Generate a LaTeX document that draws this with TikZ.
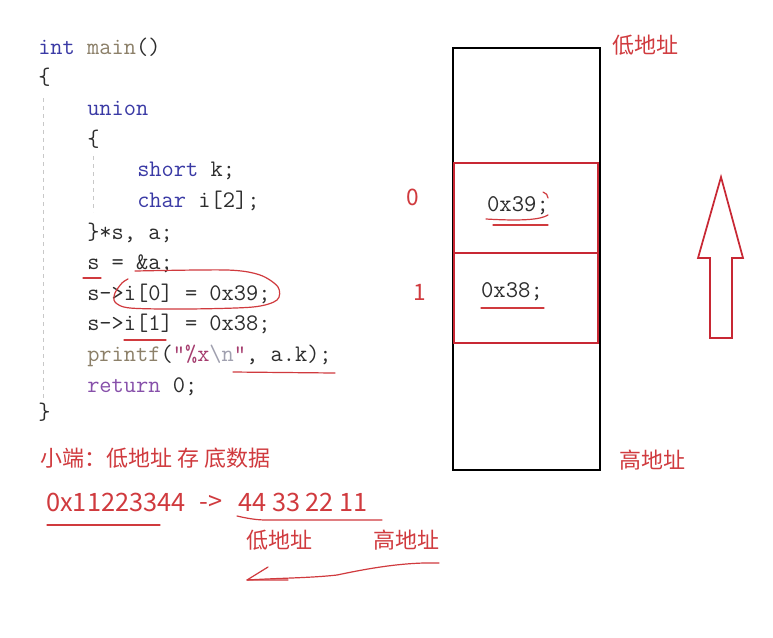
\documentclass[tikz,border=0pt]{standalone}
\usepackage{fontspec}
\usepackage{xcolor}
\usepackage{tikz}
\newfontfamily\codefont{Latin Modern Mono}
\newfontfamily\cjkfont{Noto Sans CJK SC}
\definecolor{pen}{RGB}{208,58,62}
\definecolor{boxred}{RGB}{200,40,52}
\definecolor{codegray}{RGB}{45,45,45}
\definecolor{kw}{RGB}{58,58,165}
\definecolor{fn}{RGB}{140,128,105}
\definecolor{rt}{RGB}{135,80,170}
\definecolor{st}{RGB}{165,60,110}
\definecolor{esc}{RGB}{160,160,175}
\definecolor{guide}{RGB}{200,200,200}
\newcommand{\kw}[1]{\textcolor{kw}{#1}}
\newcommand{\fn}[1]{\textcolor{fn}{#1}}

\begin{document}
\begin{tikzpicture}[x=0.75pt,y=-0.75pt,
    code/.style={anchor=mid west,inner sep=0pt,text=codegray,
        font=\codefont\fontsize{17.8}{20}\selectfont},
    note/.style={inner sep=0pt,text=pen,font=\cjkfont\fontsize{16.5}{20}\selectfont},
    num/.style={inner sep=0pt,text=pen,font=\cjkfont\fontsize{19}{22}\selectfont},
    ink/.style={draw=pen,line width=0.9pt,line cap=round,line join=round}]
    \fill [white] (0,0) rectangle (773,637);
    \useasboundingbox (0,0) rectangle (773,637);

    % code
    \draw [guide,dash pattern=on 3pt off 3pt] (43,98)--(43,402);
    \draw [guide,dash pattern=on 3pt off 3pt] (93,156)--(93,212);
    \node[code] (l1) at (38,52) {\kw{int} \fn{main}()};
    \node[code] (l2) at (38,82) {\{};
    \node[code] (l3) at (87,113) {\kw{union}};
    \node[code] (l4) at (87,144) {\{};
    \node[code] (l5) at (137,174) {\kw{short} k;};
    \node[code] (l6) at (137,205) {\kw{char} i[2];};
    \node[code] (l7) at (87,237) {\}*s, a;};
    \node[code] (l8) at (87,267) {s = \&a;};
    \node[code] (l9) at (87,298) {s->i[0] = 0x39;};
    \node[code] (l10) at (87,328) {s->i[1] = 0x38;};
    \node[code] (l11) at (87,359) {\fn{printf}(\textcolor{st}{”\%x}\textcolor{esc}{\textbackslash n}\textcolor{st}{”}, a.k);};
    \node[code] (l12) at (87,390) {\textcolor{rt}{return} 0;};
    \node[code] (l13) at (38,417) {\}};

    % marks on the code
    \draw[ink] (83,278)--(101,278);
    \draw[ink] plot[smooth] coordinates {(135,271) (227,270) (260,275) (278,287) (277,300)
        (253,307) (187,309) (130,308) (115,302) (115,293) (122,283) (128,279)};
    \draw[ink] (124,340)--(166,340);
    \draw[ink] (233,372)--(335,373);

    % memory
    \draw [black,line width=1.5pt] (453,48) rectangle (600,470);
    \draw [boxred,line width=1.5pt] (454,163) rectangle (598,253);
    \draw [boxred,line width=1.5pt] (454,253) rectangle (598,343);
    \node[code,anchor=center,font=\codefont\fontsize{18}{20}\selectfont] (v0) at (518,206) {0x39;};
    \node[code,anchor=center,font=\codefont\fontsize{18}{20}\selectfont] (v1) at (512,292) {0x38;};
    \draw[ink] (486,219) .. controls (520,221) and (540,220) .. (548,215);
    \draw[ink] (493,225)--(548,225);
    \draw[ink] (543,192) .. controls (546,193) and (548,195) .. (548,198);
    \draw[ink] (481,308)--(544,308);
    \node[num,font=\cjkfont\fontsize{17}{20}\selectfont] (i0) at (413,197) {0};
    \node[num,font=\cjkfont\fontsize{17}{20}\selectfont] (i1) at (420,292) {1};
    \node[note] (lo) at (645,45) {低地址};
    \node[note] (hi) at (652,460) {高地址};
    \draw[boxred,line width=1.3pt,line join=miter] (721,177)--(743,258)--(732,258)--(732,338)
        --(710,338)--(710,258)--(698,258)--cycle;

    % little endian
    \node[note,anchor=west] (rule) at (40,458) {小端：低地址 存 底数据};
    \node[num,anchor=west] (val) at (46,502) {0x11223344};
    \node[num] (to) at (211,503) {->};
    \node[num,anchor=west] (bytes) at (238,502) {44 33 22 11};
    \draw[ink] (47,525)--(160,525);
    \draw[ink] (237,516) .. controls (250,519) and (258,520) .. (267,520)--(382,520);
    \node[note] (blo) at (279,540) {低地址};
    \node[note] (bhi) at (406,540) {高地址};
    \draw[ink] (439,563) .. controls (405,562) and (370,568) .. (337,575)
        .. controls (310,578) and (280,578) .. (247,580);
    \draw[ink] (268,567)--(247,580)--(288,580);
\end{tikzpicture}
\end{document}
